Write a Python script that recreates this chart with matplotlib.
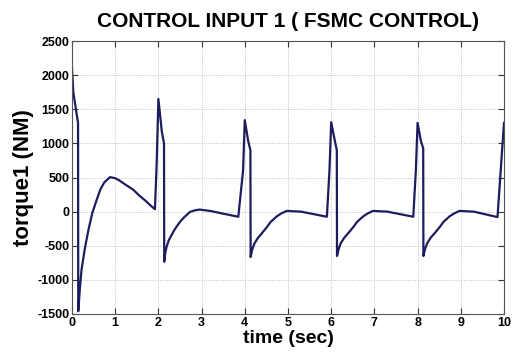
import matplotlib
matplotlib.use("Agg")
import matplotlib.pyplot as plt

plt.rcParams['font.family'] = ['Liberation Sans', 'DejaVu Sans']
plt.rcParams['axes.unicode_minus'] = False

time_sec = [0.0, 0.03, 0.14, 0.145, 0.18, 0.22, 0.3, 0.38, 0.47, 0.57, 0.66, 0.75, 0.88, 1.0, 1.1,
            1.25, 1.42, 1.55, 1.7, 1.82, 1.92,
            1.96, 2.0, 2.08, 2.13, 2.135, 2.16, 2.19, 2.24, 2.3, 2.36, 2.42, 2.5, 2.6, 2.73, 2.85,
            2.96, 3.2, 3.5, 3.85,
            3.96, 4.0, 4.08, 4.13, 4.135, 4.17, 4.22, 4.3, 4.43, 4.52, 4.6, 4.74, 4.85, 4.97, 5.3, 5.9,
            5.96, 6.0, 6.09, 6.13, 6.135, 6.17, 6.22, 6.3, 6.43, 6.52, 6.6, 6.74, 6.85, 6.97, 7.3, 7.9,
            7.96, 8.0, 8.08, 8.13, 8.135, 8.17, 8.22, 8.3, 8.43, 8.52, 8.6, 8.74, 8.85, 8.97, 9.3, 9.85,
            10.0]
torque1 = [2100, 1750, 1300, -1460, -1150, -855, -530, -270, -20, 170, 330, 430, 505, 490, 455,
           390, 320, 240, 160, 90, 35,
           700, 1650, 1170, 1000, -735, -600, -515, -420, -350, -280, -220, -150, -80, -5, 20,
           30, 10, -30, -75,
           600, 1340, 1030, 900, -665, -560, -470, -390, -290, -220, -150, -70, -25, 10, 0, -75,
           600, 1310, 1020, 905, -650, -555, -465, -385, -290, -220, -150, -70, -25, 10, 0, -75,
           600, 1300, 1025, 930, -650, -555, -465, -385, -290, -220, -150, -70, -25, 10, 0, -80,
           1300]

xticks = list(range(0, 11))
yticks = [-1500, -1000, -500, 0, 500, 1000, 1500, 2000, 2500]

fig = plt.figure(figsize=(5.15, 3.55), dpi=100)
ax = fig.add_axes([0.1398, 0.1155, 0.8388, 0.769])
ax.plot(time_sec, torque1, color='#1c1c5e', linewidth=1.6)
ax.set_xlim(0, 10)
ax.set_ylim(-1500, 2500)
ax.set_xticks(xticks)
ax.set_yticks(yticks)
ax.grid(True, linestyle=(0, (1, 1.5)), color='#c0c0c0', linewidth=0.7)
ax.tick_params(direction='in', length=4, width=0.8, colors='#333333', labelcolor='black',
               top=True, right=True, pad=2)
for lbl in ax.get_xticklabels() + ax.get_yticklabels():
    lbl.set_fontweight('bold')
    lbl.set_fontsize(9)
for s in ax.spines.values():
    s.set_color('#555555')
    s.set_linewidth(0.8)
ax.set_title('CONTROL INPUT 1 ( FSMC CONTROL)', fontsize=15, fontweight='bold', pad=10)
ax.set_xlabel('time (sec)', fontsize=14, fontweight='bold', labelpad=1)
ax.set_ylabel('torque1 (NM)', fontsize=16, fontweight='bold', labelpad=2)
fig.savefig('out.png', dpi=100)
